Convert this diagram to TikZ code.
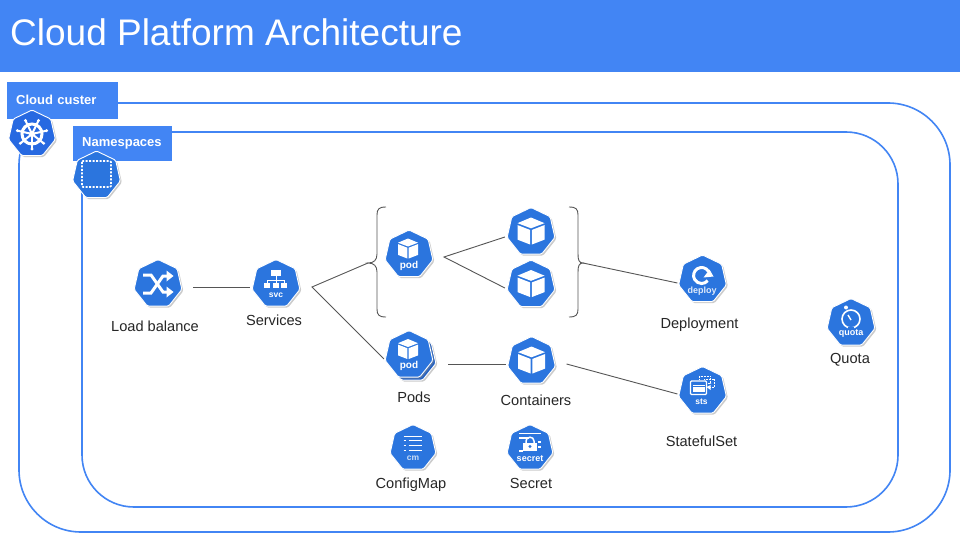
\documentclass[tikz,border=0pt]{standalone}
\usepackage{fontspec}
\setmainfont{Liberation Sans}
\usetikzlibrary{shapes.geometric,shadows,positioning}
\definecolor{gblue}{HTML}{4285F4}
\definecolor{kblue}{HTML}{2B75DE}
\definecolor{kdark}{HTML}{1F5FC4}
\definecolor{linegray}{HTML}{555555}

\begin{document}
\begin{tikzpicture}[x=1pt,y=-1pt,
    hept/.style={regular polygon,regular polygon sides=7,minimum size=49,inner sep=0pt,
    fill=kblue,draw=white,line width=0.9pt,rounded corners=1.5pt,
    drop shadow={shadow xshift=1.5pt,shadow yshift=-1.5pt,fill=black!45,opacity=0.45}},
    frame/.style={draw=gblue,line width=1.6pt,minimum width=#1,inner sep=0pt},
    tagbox/.style={fill=gblue,text=white,font=\fontsize{13}{14}\bfseries,anchor=north west,
    inner xsep=9pt,inner ysep=0pt,align=left,text height=9pt,text depth=2.5pt},
    lbl/.style={font=\fontsize{14.6}{16}\selectfont,text=black!85,inner sep=0pt},
    link/.style={draw=linegray,line width=0.9pt},
    icontxt/.style={text=white,font=\fontsize{#1}{10}\bfseries,inner sep=0pt},
    icontxt/.default=9,
    wheelpic/.pic={\draw[white,line width=3pt] (0,0) circle[radius=10];
    \fill[white] (0,0) circle[radius=3];
    \foreach \A in {0,...,6}
    {
     \draw[white,line width=2pt] (0,0) -- (90+\A*51.43:15);
     \fill[white] (90+\A*51.43:15) circle[radius=1.6];
    }},
    nspic/.pic={\draw[white,line width=1.6pt,dash pattern=on 2pt off 1.5pt,rounded corners=1pt]
    (-14.5,-14.5) rectangle (14.5,11.5);},
    shufflepic/.pic={\draw[white,line width=3pt] (-15,-9) -- (-7,-9) -- (5,8) -- (10,8);
    \draw[white,line width=3pt] (-15,9) -- (-7,9) -- (5,-8) -- (10,-8);
    \fill[white] (8.5,-13.5) -- (15.5,-8) -- (8.5,-2.5) -- cycle;
    \fill[white] (8.5,2.5) -- (15.5,8) -- (8.5,13.5) -- cycle;},
    svcpic/.pic={\fill[white] (-5,-14) rectangle (4.5,-8);
    \draw[white,line width=1pt] (0,-8) -- (0,1) (-9,1) -- (-9,-3.5) -- (8,-3.5) -- (8,1);
    \fill[white] (-12,-1) rectangle (-6,3.5);
    \fill[white] (-3,-1) rectangle (3,3.5);
    \fill[white] (5,-1) rectangle (11,3.5);
    \node[icontxt=8.5] (txt) at (0,11.5) {svc};},
    cubepic/.pic={\fill[white] (0,-10) -- (10,-5.8) -- (0,-2) -- (-10,-5.8) -- cycle;
    \fill[white] (-10,-4.4) -- (-0.7,-0.8) -- (-0.7,10) -- (-10,6.4) -- cycle;
    \fill[white] (10,-4.4) -- (0.7,-0.8) -- (0.7,10) -- (10,6.4) -- cycle;},
    deploypic/.pic={\draw[white,line width=3pt] (6,-8) arc[start angle=-30,end angle=-320,radius=8];
    \fill[white] (1,-2) -- (11,-3) -- (7,-10) -- cycle;
    \node[icontxt=9,text=white!85!kblue] (txt) at (-0.5,12) {deploy};},
    stspic/.pic={\draw[white,line width=0.9pt,dash pattern=on 2pt off 1pt]
    (-3,-15) rectangle (8,-8) (2,-12) rectangle (12,-4);
    \fill[kblue] (-13,-11) rectangle (5,4);
    \draw[white,line width=1.2pt,rounded corners=1pt] (-12,-10) rectangle (4,3.5);
    \fill[white] (-9.5,-6) rectangle (2,0.5);
    \fill[white] (4,-4) -- (8,-6) -- (8,-1) -- cycle;
    \draw[kblue,line width=0.8pt] (-9.5,-5) -- (2,-5);
    \node[icontxt=8.5] (txt) at (-1,10.5) {sts};},
    quotapic/.pic={\draw[white,line width=1.6pt] (0,-4) circle[radius=9];
    \fill[white] (-5,-15.5) circle[radius=2];
    \draw[white,line width=1.4pt] (-3,-8) -- (0,-3);
    \draw[kblue,line width=2.5pt] (-3,5) -- (3,5);
    \node[icontxt=9] (txt) at (0,10.7) {quota};},
    cmpic/.pic={\foreach \Y in {-7.5,-2.5,2.5}
    {
     \draw[white,line width=1.1pt] (-9.5,\Y) -- (-7,\Y);
     \draw[white,line width=1.1pt] (-4.5,\Y) -- (9,\Y);
    }
    \draw[white,line width=1.1pt] (-9.5,-11.5) -- (9,-11.5);
    \node[icontxt=8.5,text=white!75!kblue] (txt) at (0,10.5) {cm};},
    secretpic/.pic={\draw[white,line width=1.1pt] (-11,-14.5) -- (11,-14.5)
    (-11,-10) -- (-1,-10) (8,-6) -- (11,-6) (8,-1) -- (11,-1) (-11,3) -- (-7,3);
    \draw[white,line width=1.5pt] (-4,-5) -- (-4,-7) .. controls (-4,-12) and (4,-12) .. (4,-7) -- (4,-5);
    \fill[white] (-7,-5.5) rectangle (7,3);
    \fill[kblue] (0,-1.5) circle[radius=1.6];
    \node[icontxt=9] (txt) at (0,11) {secret};}]

   \useasboundingbox (0,0) rectangle (960,540);
   \fill[white] (0,0) rectangle (960,540);
   \fill[gblue] (0,0) rectangle (960,72);
   \node[anchor=west,text=white,font=\fontsize{37}{40}\selectfont,inner sep=0pt] (title) at (10,32)
    {Cloud Platform Architecture};

   % the two frames and their tabs
   \node[frame=931,minimum height=429,rounded corners=62] (cluster) at (484.5,317.5) {};
   \node[frame=816,minimum height=375,rounded corners=52] (nsframe) at (490,319.5) {};
   \node[tagbox,text depth=1.5pt,minimum width=111,minimum height=37,text width=93] (clustertag) at (7,82) {Cloud custer};
   \node[tagbox,minimum width=99,minimum height=35,text width=81] (nstag) at (73,126) {Namespaces};
   \node[hept,fill=kblue!90!blue,minimum size=48] (wheel) at (32,134) {};
   \pic at (wheel) {wheelpic};
   \node[hept] (nsicon) at (96.5,175.5) {};
   \pic at (nsicon) {nspic};

   % icons
   \node[hept] (lb) at (158,284) {};
   \pic at (lb) {shufflepic};
   \node[hept] (svc) at (276,284) {};
   \pic (svcicon) at (svc) {svcpic};
   \node[hept] (pod) at (409,254.5) {};
   \pic at ([shift={(-1,-6)}]pod.center) {cubepic};
   \node[icontxt=10] (podtxt) at ([yshift=-11pt]pod.center) {pod};
   \node[hept] (c1) at (531,232) {};
   \pic[scale=1.35] at ([shift={(0,-1)}]c1.center) {cubepic};
   \node[hept] (c2) at (531,284.5) {};
   \pic[scale=1.35] at ([shift={(0,-1)}]c2.center) {cubepic};
   \node[hept,fill=kdark] (podsback) at (412,358) {};
   \node[hept] (pods) at (409,355) {};
   \pic at ([shift={(-1,-6)}]pods.center) {cubepic};
   \node[icontxt=10] (podstxt) at ([yshift=-11pt]pods.center) {pod};
   \node[hept] (cont) at (531.5,361) {};
   \pic[scale=1.35] at ([shift={(0,-1)}]cont.center) {cubepic};
   \node[hept,minimum size=47] (cm) at (413,448) {};
   \pic (cmicon) at (cm) {cmpic};
   \node[hept,minimum size=47] (secret) at (530,448) {};
   \pic (secreticon) at (secret) {secretpic};
   \node[hept] (deploy) at (702.5,279.5) {};
   \pic (deployicon) at (deploy) {deploypic};
   \node[hept] (sts) at (702.5,391) {};
   \pic (stsicon) at (sts) {stspic};
   \node[hept] (quota) at (851,323) {};
   \pic (quotaicon) at (quota) {quotapic};

   % labels
   \node[lbl,below=14.5pt of lb,xshift=-3pt] (lblb) {Load balance};
   \node[lbl,below=7.7pt of svc,xshift=-2pt] (lbsvc) {Services};
   \node[lbl,below=13.7pt of pods,xshift=5pt] (lbpods) {Pods};
   \node[lbl,below=10.7pt of cont,xshift=4.5pt] (lbcont) {Containers};
   \node[lbl,below=7.7pt of cm,xshift=-2pt] (lbcm) {ConfigMap};
   \node[lbl,below=8.7pt of secret,xshift=1pt] (lbsecret) {Secret};
   \node[lbl,below=15.7pt of deploy,xshift=-3pt] (lbdeploy) {Deployment};
   \node[lbl,below=21.7pt of sts,xshift=-1pt] (lbsts) {StatefulSet};
   \node[lbl,below=7.7pt of quota,xshift=-1pt] (lbquota) {Quota};

   % braces round the pod and its two containers
   \coordinate (tipl) at (368,263);
   \coordinate (tipr) at (583,263);
   \draw[link] (386,207) .. controls (379,207) and (377,209) .. (377,215) -- (377,254)
    .. controls (377,260) and (374,263) .. (tipl)
    .. controls (374,263) and (377,266) .. (377,272) -- (377,309)
    .. controls (377,315) and (379,317) .. (386,317);
   \draw[link] (569,207) .. controls (576,207) and (578,209) .. (578,215) -- (578,254)
    .. controls (578,260) and (579,263) .. (tipr)
    .. controls (579,263) and (578,266) .. (578,272) -- (578,309)
    .. controls (578,315) and (576,317) .. (569,317);

   % connectors
   \coordinate (fork) at ([xshift=36pt,yshift=-3pt]svc.center);
   \coordinate (podfork) at ([xshift=35pt,yshift=-2.5pt]pod.center);
   \draw[link] ([xshift=12pt,yshift=-3pt]lb.east) -- ([xshift=-3pt,yshift=-3pt]svc.west);
   \draw[link] (tipl) -- (fork) -- ([xshift=-2pt,yshift=-4pt]pods.west);
   \draw[link] ([xshift=-3pt,yshift=-5pt]c1.west) -- (podfork) -- ([xshift=-3pt,yshift=-3.5pt]c2.west);
   \draw[link] ([xshift=16pt,yshift=-9pt]pods.east) -- ([xshift=-2pt,yshift=-3pt]cont.west);
   \draw[link] ([xshift=12pt,yshift=-3pt]cont.east) -- ([xshift=-2pt,yshift=-3pt]sts.west);
   \draw[link] (tipr) -- ([xshift=-2pt,yshift=-3.5pt]deploy.west);
\end{tikzpicture}
\end{document}
